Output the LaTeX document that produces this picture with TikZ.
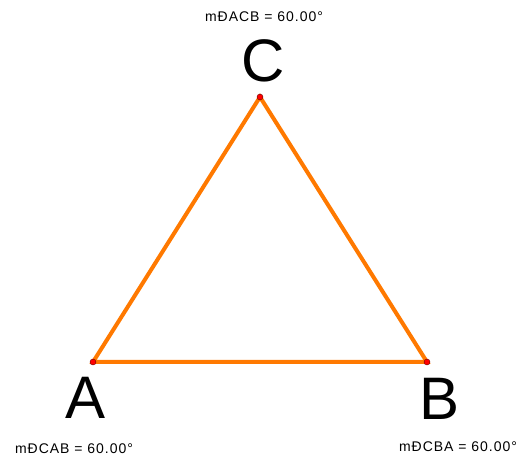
\documentclass[tikz,border=0pt]{standalone}
\usepackage{fontspec}
\setmainfont{Liberation Sans}
\usetikzlibrary{positioning}

\begin{document}
\begin{tikzpicture}[x=1pt, y=-1pt,
    vtx/.style={circle, draw=red!40!black, fill=red, inner sep=0pt, minimum size=6pt},
    side/.style={draw=orange!95!red, line width=4pt, line join=miter},
    lbl/.style={font=\fontsize{60}{64}\selectfont, inner sep=0pt},
    msr/.style={font=\fontsize{14}{16}\selectfont\addfontfeature{LetterSpace=7}, inner sep=0pt},
]
    \useasboundingbox (0,0) rectangle (523,457);

    \coordinate (A) at (93,362);
    \coordinate (B) at (427,362);
    \coordinate (C) at (260,97);

    \draw[side] (A) -- (B) -- (C) -- cycle;

    \node[vtx] (a) at (A) {};
    \node[vtx] (b) at (B) {};
    \node[vtx] (c) at (C) {};

    \node[lbl] (la) at (86,398) {A};
    \node[lbl] (lb) at (440,399) {B};
    \node[lbl] (lc) at (263,61) {C};

    \node[msr] (mc) at (264,17) {mĐACB = 60.00°};
    \node[msr] (ma) at (74,449) {mĐCAB = 60.00°};
    \node[msr] (mb) at (458,447) {mĐCBA = 60.00°};
\end{tikzpicture}
\end{document}
